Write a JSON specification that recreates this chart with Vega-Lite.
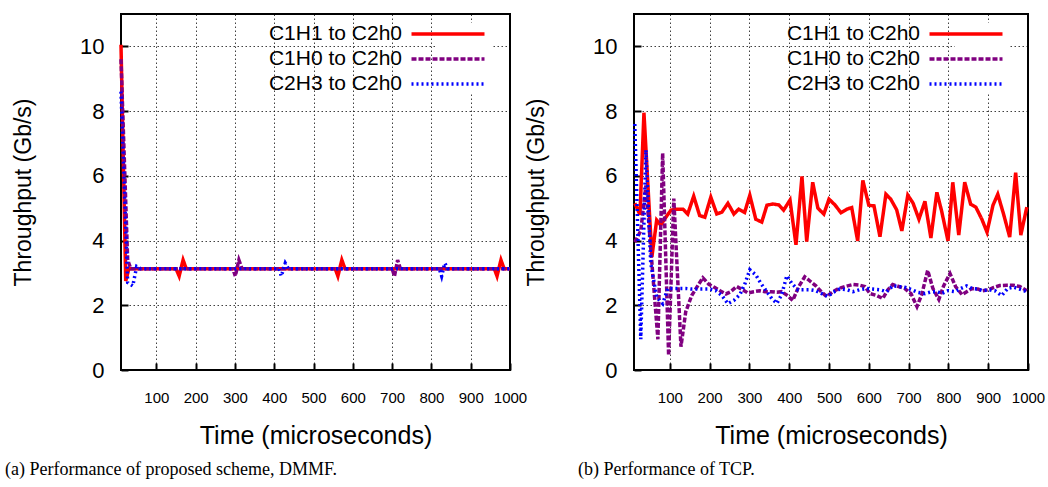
{
  "$schema": "https://vega.github.io/schema/vega-lite/v6.json",
  "padding": {"left": 4, "top": 13, "right": 4, "bottom": 4},
  "background": "white",
  "bounds": "flush",
  "spacing": 124,
  "datasets": {
    "dmmf": [
      {"t": 10, "thr": 10.05, "series": "C1H1 to C2h0"},
      {"t": 22, "thr": 2.75, "series": "C1H1 to C2h0"},
      {"t": 30, "thr": 3.13, "series": "C1H1 to C2h0"},
      {"t": 150, "thr": 3.13, "series": "C1H1 to C2h0"},
      {"t": 158, "thr": 2.9, "series": "C1H1 to C2h0"},
      {"t": 168, "thr": 3.4, "series": "C1H1 to C2h0"},
      {"t": 176, "thr": 3.13, "series": "C1H1 to C2h0"},
      {"t": 555, "thr": 3.13, "series": "C1H1 to C2h0"},
      {"t": 562, "thr": 2.9, "series": "C1H1 to C2h0"},
      {"t": 572, "thr": 3.4, "series": "C1H1 to C2h0"},
      {"t": 580, "thr": 3.13, "series": "C1H1 to C2h0"},
      {"t": 960, "thr": 3.13, "series": "C1H1 to C2h0"},
      {"t": 967, "thr": 2.9, "series": "C1H1 to C2h0"},
      {"t": 977, "thr": 3.4, "series": "C1H1 to C2h0"},
      {"t": 985, "thr": 3.13, "series": "C1H1 to C2h0"},
      {"t": 1000, "thr": 3.13, "series": "C1H1 to C2h0"},
      {"t": 10, "thr": 9.6, "series": "C1H0 to C2h0"},
      {"t": 27, "thr": 3.4, "series": "C1H0 to C2h0"},
      {"t": 35, "thr": 3.13, "series": "C1H0 to C2h0"},
      {"t": 295, "thr": 3.13, "series": "C1H0 to C2h0"},
      {"t": 301, "thr": 2.9, "series": "C1H0 to C2h0"},
      {"t": 310, "thr": 3.4, "series": "C1H0 to C2h0"},
      {"t": 318, "thr": 3.13, "series": "C1H0 to C2h0"},
      {"t": 700, "thr": 3.13, "series": "C1H0 to C2h0"},
      {"t": 706, "thr": 2.9, "series": "C1H0 to C2h0"},
      {"t": 714, "thr": 3.4, "series": "C1H0 to C2h0"},
      {"t": 721, "thr": 3.13, "series": "C1H0 to C2h0"},
      {"t": 1000, "thr": 3.13, "series": "C1H0 to C2h0"},
      {"t": 10, "thr": 8.6, "series": "C2H3 to C2h0"},
      {"t": 27, "thr": 2.7, "series": "C2H3 to C2h0"},
      {"t": 40, "thr": 2.6, "series": "C2H3 to C2h0"},
      {"t": 50, "thr": 3.2, "series": "C2H3 to C2h0"},
      {"t": 60, "thr": 3.13, "series": "C2H3 to C2h0"},
      {"t": 412, "thr": 3.13, "series": "C2H3 to C2h0"},
      {"t": 418, "thr": 2.9, "series": "C2H3 to C2h0"},
      {"t": 428, "thr": 3.3, "series": "C2H3 to C2h0"},
      {"t": 436, "thr": 3.13, "series": "C2H3 to C2h0"},
      {"t": 820, "thr": 3.13, "series": "C2H3 to C2h0"},
      {"t": 826, "thr": 2.9, "series": "C2H3 to C2h0"},
      {"t": 834, "thr": 3.3, "series": "C2H3 to C2h0"},
      {"t": 842, "thr": 3.13, "series": "C2H3 to C2h0"},
      {"t": 1000, "thr": 3.13, "series": "C2H3 to C2h0"}
    ],
    "tcp": [
      {"t": 12, "thr": 5.15, "series": "C1H1 to C2h0"},
      {"t": 25, "thr": 4.8, "series": "C1H1 to C2h0"},
      {"t": 35, "thr": 7.95, "series": "C1H1 to C2h0"},
      {"t": 45, "thr": 5.7, "series": "C1H1 to C2h0"},
      {"t": 55, "thr": 3.5, "series": "C1H1 to C2h0"},
      {"t": 67, "thr": 4.63, "series": "C1H1 to C2h0"},
      {"t": 77, "thr": 4.48, "series": "C1H1 to C2h0"},
      {"t": 90, "thr": 4.72, "series": "C1H1 to C2h0"},
      {"t": 103, "thr": 4.94, "series": "C1H1 to C2h0"},
      {"t": 118, "thr": 4.97, "series": "C1H1 to C2h0"},
      {"t": 133, "thr": 4.97, "series": "C1H1 to C2h0"},
      {"t": 145, "thr": 4.82, "series": "C1H1 to C2h0"},
      {"t": 160, "thr": 5.37, "series": "C1H1 to C2h0"},
      {"t": 175, "thr": 4.77, "series": "C1H1 to C2h0"},
      {"t": 188, "thr": 4.72, "series": "C1H1 to C2h0"},
      {"t": 203, "thr": 5.34, "series": "C1H1 to C2h0"},
      {"t": 218, "thr": 4.82, "series": "C1H1 to C2h0"},
      {"t": 231, "thr": 4.88, "series": "C1H1 to C2h0"},
      {"t": 246, "thr": 5.15, "series": "C1H1 to C2h0"},
      {"t": 261, "thr": 4.82, "series": "C1H1 to C2h0"},
      {"t": 273, "thr": 4.97, "series": "C1H1 to C2h0"},
      {"t": 288, "thr": 4.87, "series": "C1H1 to C2h0"},
      {"t": 301, "thr": 5.4, "series": "C1H1 to C2h0"},
      {"t": 316, "thr": 4.66, "series": "C1H1 to C2h0"},
      {"t": 331, "thr": 4.57, "series": "C1H1 to C2h0"},
      {"t": 344, "thr": 5.09, "series": "C1H1 to C2h0"},
      {"t": 359, "thr": 5.13, "series": "C1H1 to C2h0"},
      {"t": 374, "thr": 5.1, "series": "C1H1 to C2h0"},
      {"t": 386, "thr": 4.94, "series": "C1H1 to C2h0"},
      {"t": 402, "thr": 5.25, "series": "C1H1 to C2h0"},
      {"t": 417, "thr": 3.87, "series": "C1H1 to C2h0"},
      {"t": 432, "thr": 5.98, "series": "C1H1 to C2h0"},
      {"t": 444, "thr": 3.97, "series": "C1H1 to C2h0"},
      {"t": 459, "thr": 5.8, "series": "C1H1 to C2h0"},
      {"t": 472, "thr": 5.0, "series": "C1H1 to C2h0"},
      {"t": 487, "thr": 4.82, "series": "C1H1 to C2h0"},
      {"t": 500, "thr": 5.28, "series": "C1H1 to C2h0"},
      {"t": 515, "thr": 5.1, "series": "C1H1 to C2h0"},
      {"t": 530, "thr": 4.86, "series": "C1H1 to C2h0"},
      {"t": 545, "thr": 4.97, "series": "C1H1 to C2h0"},
      {"t": 557, "thr": 5.02, "series": "C1H1 to C2h0"},
      {"t": 572, "thr": 3.99, "series": "C1H1 to C2h0"},
      {"t": 585, "thr": 5.86, "series": "C1H1 to C2h0"},
      {"t": 600, "thr": 5.09, "series": "C1H1 to C2h0"},
      {"t": 613, "thr": 5.07, "series": "C1H1 to C2h0"},
      {"t": 628, "thr": 4.12, "series": "C1H1 to C2h0"},
      {"t": 643, "thr": 5.43, "series": "C1H1 to C2h0"},
      {"t": 655, "thr": 5.28, "series": "C1H1 to C2h0"},
      {"t": 670, "thr": 4.95, "series": "C1H1 to C2h0"},
      {"t": 683, "thr": 4.3, "series": "C1H1 to C2h0"},
      {"t": 698, "thr": 5.4, "series": "C1H1 to C2h0"},
      {"t": 711, "thr": 5.16, "series": "C1H1 to C2h0"},
      {"t": 726, "thr": 4.66, "series": "C1H1 to C2h0"},
      {"t": 741, "thr": 5.21, "series": "C1H1 to C2h0"},
      {"t": 756, "thr": 4.08, "series": "C1H1 to C2h0"},
      {"t": 771, "thr": 5.49, "series": "C1H1 to C2h0"},
      {"t": 783, "thr": 4.91, "series": "C1H1 to C2h0"},
      {"t": 799, "thr": 3.99, "series": "C1H1 to C2h0"},
      {"t": 811, "thr": 5.8, "series": "C1H1 to C2h0"},
      {"t": 826, "thr": 4.17, "series": "C1H1 to C2h0"},
      {"t": 841, "thr": 5.8, "series": "C1H1 to C2h0"},
      {"t": 856, "thr": 5.12, "series": "C1H1 to C2h0"},
      {"t": 869, "thr": 5.03, "series": "C1H1 to C2h0"},
      {"t": 884, "thr": 4.66, "series": "C1H1 to C2h0"},
      {"t": 897, "thr": 4.26, "series": "C1H1 to C2h0"},
      {"t": 912, "thr": 5.09, "series": "C1H1 to C2h0"},
      {"t": 924, "thr": 5.43, "series": "C1H1 to C2h0"},
      {"t": 939, "thr": 4.8, "series": "C1H1 to C2h0"},
      {"t": 954, "thr": 4.11, "series": "C1H1 to C2h0"},
      {"t": 969, "thr": 6.1, "series": "C1H1 to C2h0"},
      {"t": 982, "thr": 4.17, "series": "C1H1 to C2h0"},
      {"t": 997, "thr": 5.03, "series": "C1H1 to C2h0"},
      {"t": 12, "thr": 3.95, "series": "C1H0 to C2h0"},
      {"t": 27, "thr": 4.3, "series": "C1H0 to C2h0"},
      {"t": 40, "thr": 5.7, "series": "C1H0 to C2h0"},
      {"t": 55, "thr": 3.3, "series": "C1H0 to C2h0"},
      {"t": 70, "thr": 0.95, "series": "C1H0 to C2h0"},
      {"t": 82, "thr": 6.7, "series": "C1H0 to C2h0"},
      {"t": 97, "thr": 0.45, "series": "C1H0 to C2h0"},
      {"t": 110, "thr": 5.3, "series": "C1H0 to C2h0"},
      {"t": 128, "thr": 0.72, "series": "C1H0 to C2h0"},
      {"t": 140, "thr": 1.8, "series": "C1H0 to C2h0"},
      {"t": 155, "thr": 2.3, "series": "C1H0 to C2h0"},
      {"t": 170, "thr": 2.6, "series": "C1H0 to C2h0"},
      {"t": 183, "thr": 2.85, "series": "C1H0 to C2h0"},
      {"t": 198, "thr": 2.65, "series": "C1H0 to C2h0"},
      {"t": 213, "thr": 2.55, "series": "C1H0 to C2h0"},
      {"t": 226, "thr": 2.45, "series": "C1H0 to C2h0"},
      {"t": 241, "thr": 2.35, "series": "C1H0 to C2h0"},
      {"t": 253, "thr": 2.42, "series": "C1H0 to C2h0"},
      {"t": 268, "thr": 2.58, "series": "C1H0 to C2h0"},
      {"t": 283, "thr": 2.48, "series": "C1H0 to C2h0"},
      {"t": 296, "thr": 2.38, "series": "C1H0 to C2h0"},
      {"t": 311, "thr": 2.42, "series": "C1H0 to C2h0"},
      {"t": 326, "thr": 2.45, "series": "C1H0 to C2h0"},
      {"t": 339, "thr": 2.42, "series": "C1H0 to C2h0"},
      {"t": 354, "thr": 2.42, "series": "C1H0 to C2h0"},
      {"t": 369, "thr": 2.4, "series": "C1H0 to C2h0"},
      {"t": 381, "thr": 2.42, "series": "C1H0 to C2h0"},
      {"t": 396, "thr": 2.3, "series": "C1H0 to C2h0"},
      {"t": 409, "thr": 2.15, "series": "C1H0 to C2h0"},
      {"t": 424, "thr": 2.58, "series": "C1H0 to C2h0"},
      {"t": 439, "thr": 2.88, "series": "C1H0 to C2h0"},
      {"t": 452, "thr": 2.75, "series": "C1H0 to C2h0"},
      {"t": 467, "thr": 2.6, "series": "C1H0 to C2h0"},
      {"t": 482, "thr": 2.4, "series": "C1H0 to C2h0"},
      {"t": 494, "thr": 2.27, "series": "C1H0 to C2h0"},
      {"t": 510, "thr": 2.42, "series": "C1H0 to C2h0"},
      {"t": 525, "thr": 2.52, "series": "C1H0 to C2h0"},
      {"t": 540, "thr": 2.58, "series": "C1H0 to C2h0"},
      {"t": 560, "thr": 2.64, "series": "C1H0 to C2h0"},
      {"t": 577, "thr": 2.62, "series": "C1H0 to C2h0"},
      {"t": 590, "thr": 2.58, "series": "C1H0 to C2h0"},
      {"t": 603, "thr": 2.36, "series": "C1H0 to C2h0"},
      {"t": 620, "thr": 2.3, "series": "C1H0 to C2h0"},
      {"t": 635, "thr": 2.21, "series": "C1H0 to C2h0"},
      {"t": 648, "thr": 2.48, "series": "C1H0 to C2h0"},
      {"t": 660, "thr": 2.64, "series": "C1H0 to C2h0"},
      {"t": 675, "thr": 2.58, "series": "C1H0 to C2h0"},
      {"t": 690, "thr": 2.52, "series": "C1H0 to C2h0"},
      {"t": 706, "thr": 2.36, "series": "C1H0 to C2h0"},
      {"t": 721, "thr": 1.96, "series": "C1H0 to C2h0"},
      {"t": 733, "thr": 2.33, "series": "C1H0 to C2h0"},
      {"t": 748, "thr": 3.08, "series": "C1H0 to C2h0"},
      {"t": 761, "thr": 2.52, "series": "C1H0 to C2h0"},
      {"t": 776, "thr": 2.18, "series": "C1H0 to C2h0"},
      {"t": 788, "thr": 2.6, "series": "C1H0 to C2h0"},
      {"t": 804, "thr": 2.98, "series": "C1H0 to C2h0"},
      {"t": 818, "thr": 2.58, "series": "C1H0 to C2h0"},
      {"t": 834, "thr": 2.33, "series": "C1H0 to C2h0"},
      {"t": 846, "thr": 2.42, "series": "C1H0 to C2h0"},
      {"t": 859, "thr": 2.52, "series": "C1H0 to C2h0"},
      {"t": 874, "thr": 2.5, "series": "C1H0 to C2h0"},
      {"t": 886, "thr": 2.45, "series": "C1H0 to C2h0"},
      {"t": 901, "thr": 2.48, "series": "C1H0 to C2h0"},
      {"t": 914, "thr": 2.55, "series": "C1H0 to C2h0"},
      {"t": 929, "thr": 2.61, "series": "C1H0 to C2h0"},
      {"t": 947, "thr": 2.62, "series": "C1H0 to C2h0"},
      {"t": 962, "thr": 2.62, "series": "C1H0 to C2h0"},
      {"t": 979, "thr": 2.58, "series": "C1H0 to C2h0"},
      {"t": 997, "thr": 2.45, "series": "C1H0 to C2h0"},
      {"t": 12, "thr": 7.6, "series": "C2H3 to C2h0"},
      {"t": 27, "thr": 0.95, "series": "C2H3 to C2h0"},
      {"t": 40, "thr": 6.8, "series": "C2H3 to C2h0"},
      {"t": 52, "thr": 3.3, "series": "C2H3 to C2h0"},
      {"t": 67, "thr": 2.25, "series": "C2H3 to C2h0"},
      {"t": 82, "thr": 2.05, "series": "C2H3 to C2h0"},
      {"t": 95, "thr": 2.52, "series": "C2H3 to C2h0"},
      {"t": 110, "thr": 2.52, "series": "C2H3 to C2h0"},
      {"t": 125, "thr": 2.52, "series": "C2H3 to C2h0"},
      {"t": 140, "thr": 2.52, "series": "C2H3 to C2h0"},
      {"t": 155, "thr": 2.5, "series": "C2H3 to C2h0"},
      {"t": 170, "thr": 2.5, "series": "C2H3 to C2h0"},
      {"t": 185, "thr": 2.5, "series": "C2H3 to C2h0"},
      {"t": 200, "thr": 2.5, "series": "C2H3 to C2h0"},
      {"t": 216, "thr": 2.45, "series": "C2H3 to C2h0"},
      {"t": 231, "thr": 2.3, "series": "C2H3 to C2h0"},
      {"t": 246, "thr": 2.05, "series": "C2H3 to C2h0"},
      {"t": 261, "thr": 2.15, "series": "C2H3 to C2h0"},
      {"t": 276, "thr": 2.33, "series": "C2H3 to C2h0"},
      {"t": 288, "thr": 2.64, "series": "C2H3 to C2h0"},
      {"t": 301, "thr": 3.1, "series": "C2H3 to C2h0"},
      {"t": 316, "thr": 2.94, "series": "C2H3 to C2h0"},
      {"t": 329, "thr": 2.67, "series": "C2H3 to C2h0"},
      {"t": 344, "thr": 2.42, "series": "C2H3 to C2h0"},
      {"t": 356, "thr": 2.21, "series": "C2H3 to C2h0"},
      {"t": 369, "thr": 2.06, "series": "C2H3 to C2h0"},
      {"t": 381, "thr": 2.33, "series": "C2H3 to C2h0"},
      {"t": 394, "thr": 2.91, "series": "C2H3 to C2h0"},
      {"t": 407, "thr": 2.67, "series": "C2H3 to C2h0"},
      {"t": 422, "thr": 2.48, "series": "C2H3 to C2h0"},
      {"t": 437, "thr": 2.48, "series": "C2H3 to C2h0"},
      {"t": 452, "thr": 2.48, "series": "C2H3 to C2h0"},
      {"t": 467, "thr": 2.45, "series": "C2H3 to C2h0"},
      {"t": 482, "thr": 2.36, "series": "C2H3 to C2h0"},
      {"t": 497, "thr": 2.27, "series": "C2H3 to C2h0"},
      {"t": 510, "thr": 2.4, "series": "C2H3 to C2h0"},
      {"t": 527, "thr": 2.5, "series": "C2H3 to C2h0"},
      {"t": 545, "thr": 2.48, "series": "C2H3 to C2h0"},
      {"t": 560, "thr": 2.42, "series": "C2H3 to C2h0"},
      {"t": 577, "thr": 2.48, "series": "C2H3 to C2h0"},
      {"t": 595, "thr": 2.52, "series": "C2H3 to C2h0"},
      {"t": 610, "thr": 2.5, "series": "C2H3 to C2h0"},
      {"t": 628, "thr": 2.48, "series": "C2H3 to C2h0"},
      {"t": 645, "thr": 2.42, "series": "C2H3 to C2h0"},
      {"t": 660, "thr": 2.6, "series": "C2H3 to C2h0"},
      {"t": 673, "thr": 2.58, "series": "C2H3 to C2h0"},
      {"t": 690, "thr": 2.56, "series": "C2H3 to C2h0"},
      {"t": 708, "thr": 2.48, "series": "C2H3 to C2h0"},
      {"t": 723, "thr": 2.4, "series": "C2H3 to C2h0"},
      {"t": 741, "thr": 2.36, "series": "C2H3 to C2h0"},
      {"t": 758, "thr": 2.42, "series": "C2H3 to C2h0"},
      {"t": 773, "thr": 2.42, "series": "C2H3 to C2h0"},
      {"t": 783, "thr": 2.36, "series": "C2H3 to C2h0"},
      {"t": 799, "thr": 2.45, "series": "C2H3 to C2h0"},
      {"t": 816, "thr": 2.42, "series": "C2H3 to C2h0"},
      {"t": 831, "thr": 2.52, "series": "C2H3 to C2h0"},
      {"t": 846, "thr": 2.6, "series": "C2H3 to C2h0"},
      {"t": 859, "thr": 2.52, "series": "C2H3 to C2h0"},
      {"t": 874, "thr": 2.5, "series": "C2H3 to C2h0"},
      {"t": 886, "thr": 2.45, "series": "C2H3 to C2h0"},
      {"t": 901, "thr": 2.48, "series": "C2H3 to C2h0"},
      {"t": 917, "thr": 2.45, "series": "C2H3 to C2h0"},
      {"t": 934, "thr": 2.3, "series": "C2H3 to C2h0"},
      {"t": 949, "thr": 2.52, "series": "C2H3 to C2h0"},
      {"t": 964, "thr": 2.56, "series": "C2H3 to C2h0"},
      {"t": 979, "thr": 2.5, "series": "C2H3 to C2h0"},
      {"t": 997, "thr": 2.42, "series": "C2H3 to C2h0"}
    ]
  },
  "config": {
    "font": "Liberation Sans",
    "view": {"stroke": "black", "strokeWidth": 2},
    "axis": {
      "grid": true, "gridColor": "#000000", "gridDash": [1.5, 2.5], "gridOpacity": 0.75, "gridWidth": 1,
      "domain": false, "tickColor": "black", "tickSize": -7, "tickWidth": 2,
      "labelColor": "black", "titleColor": "black", "titleFontWeight": "normal",
      "labelFont": "Liberation Sans", "titleFont": "Liberation Sans",
      "labelOverlap": false, "labelBound": false, "labelFlush": false
    },
    "axisX": {"labelFontSize": 15, "labelPadding": 27, "titleFontSize": 25, "titlePadding": 18, "format": "d"},
    "axisY": {"labelFontSize": 22, "labelPadding": 24, "titleFontSize": 23, "titlePadding": 44},
    "legend": {
      "title": null, "symbolType": "M-4,0H4", "symbolSize": 333, "symbolStrokeWidth": 3.5,
      "labelAlign": "right", "labelOffset": -57, "labelFontSize": 21, "labelFont": "Liberation Sans",
      "labelColor": "black", "rowPadding": 4, "padding": 0, "fillColor": "white"
    },
    "title": {"font": "Liberation Serif", "fontSize": 18, "fontWeight": "normal", "color": "black"}
  },
  "resolve": {"legend": {"color": "independent", "strokeDash": "independent"}},
  "hconcat": [
    {
      "width": 389, "height": 356,
      "data": {"name": "dmmf"},
      "title": {"text": "(a) Performance of proposed scheme, DMMF.", "orient": "bottom", "anchor": "start", "frame": "group", "dx": -116, "offset": 13},
      "mark": {"type": "line", "strokeWidth": 3.5},
      "encoding": {
        "x": {"field": "t", "type": "quantitative", "title": "Time (microseconds)",
              "scale": {"domain": [10, 1000], "nice": false},
              "axis": {"values": [100, 200, 300, 400, 500, 600, 700, 800, 900, 1000]}},
        "y": {"field": "thr", "type": "quantitative", "title": "Throughput (Gb/s)",
              "scale": {"domain": [0, 11], "nice": false},
              "axis": {"values": [0, 2, 4, 6, 8, 10]}},
        "color": {"field": "series", "type": "nominal",
                  "scale": {"domain": ["C1H1 to C2h0", "C1H0 to C2h0", "C2H3 to C2h0"], "range": ["#ff0000", "#800080", "#0000ff"]},
                  "legend": {"orient": "none", "legendX": 316, "legendY": 9}},
        "strokeDash": {"field": "series", "type": "nominal",
                  "scale": {"domain": ["C1H1 to C2h0", "C1H0 to C2h0", "C2H3 to C2h0"], "range": [[1, 0], [5, 2], [2, 3]]},
                  "legend": {"orient": "none", "legendX": 316, "legendY": 9}},
        "order": {"field": "t", "type": "quantitative"}
      }
    },
    {
      "width": 394, "height": 356,
      "data": {"name": "tcp"},
      "title": {"text": "(b) Performance of TCP.", "orient": "bottom", "anchor": "start", "frame": "group", "dx": -56, "offset": 13},
      "mark": {"type": "line", "strokeWidth": 3.5},
      "encoding": {
        "x": {"field": "t", "type": "quantitative", "title": "Time (microseconds)",
              "scale": {"domain": [10, 1000], "nice": false},
              "axis": {"values": [100, 200, 300, 400, 500, 600, 700, 800, 900, 1000]}},
        "y": {"field": "thr", "type": "quantitative", "title": "Throughput (Gb/s)",
              "scale": {"domain": [0, 11], "nice": false},
              "axis": {"values": [0, 2, 4, 6, 8, 10]}},
        "color": {"field": "series", "type": "nominal",
                  "scale": {"domain": ["C1H1 to C2h0", "C1H0 to C2h0", "C2H3 to C2h0"], "range": ["#ff0000", "#800080", "#0000ff"]},
                  "legend": {"orient": "none", "legendX": 321, "legendY": 9}},
        "strokeDash": {"field": "series", "type": "nominal",
                  "scale": {"domain": ["C1H1 to C2h0", "C1H0 to C2h0", "C2H3 to C2h0"], "range": [[1, 0], [5, 2], [2, 3]]},
                  "legend": {"orient": "none", "legendX": 321, "legendY": 9}},
        "order": {"field": "t", "type": "quantitative"}
      }
    }
  ]
}
